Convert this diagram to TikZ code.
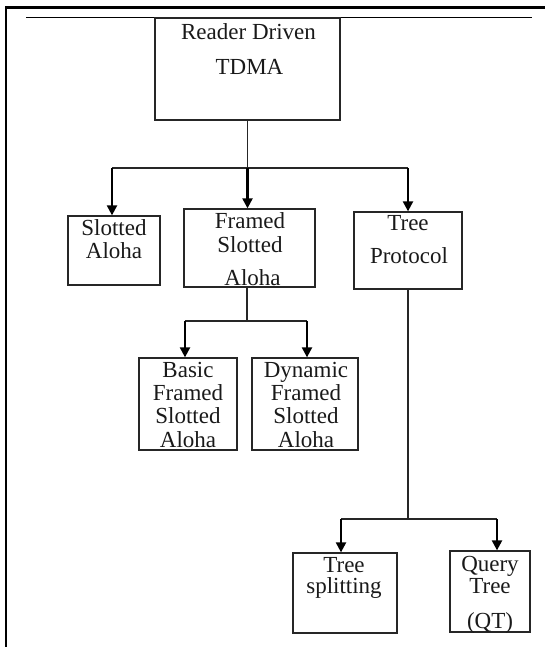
\documentclass[tikz,border=0pt]{standalone}
\usepackage{fontspec}
\setmainfont{Liberation Serif}
\usetikzlibrary{arrows.meta}
\begin{document}
\begin{tikzpicture}[x=1pt,y=-1pt,
  box/.style={draw=black!85,line width=1.3pt,rectangle,inner sep=0pt},
  lbl/.style={anchor=base,inner sep=0pt,font=\fontsize{23}{23}\selectfont,text=black!90},
  bus/.style={draw=black!85,line width=1.4pt},
  arr/.style={draw=black,line width=2.2pt,-{Triangle[length=10pt,width=10pt]}}]
\useasboundingbox (0,0) rectangle (545,647);

% page frame and rule
\draw[line width=2.6pt,black] (6,647) -- (6,7.5) -- (545,7.5);
\draw[line width=1pt,black] (26,18) -- (532,18);

% boxes
\node[box,minimum width=185pt,minimum height=102pt] (root) at (247.5,69) {};
\node[box,minimum width=92pt,minimum height=69pt] (slot) at (114,250.5) {};
\node[box,minimum width=131pt,minimum height=78pt] (fsa) at (249.5,248) {};
\node[box,minimum width=108pt,minimum height=77pt] (tree) at (408,250.5) {};
\node[box,minimum width=98pt,minimum height=92pt] (bfsa) at (188,404) {};
\node[box,minimum width=106pt,minimum height=92pt] (dfsa) at (305,404) {};
\node[box,minimum width=104pt,minimum height=80pt] (split) at (345,593) {};
\node[box,minimum width=80pt,minimum height=81pt] (qt) at (490,591.5) {};

% labels
\node[lbl] (root1) at (248.5,40) {Reader Driven};
\node[lbl] (root2) at (249.5,75) {TDMA};
\node[lbl] (slot1) at (114,235) {Slotted};
\node[lbl] (slot2) at (114,258) {Aloha};
\node[lbl] (fsa1) at (250,228) {Framed};
\node[lbl] (fsa2) at (250,252) {Slotted};
\node[lbl] (fsa3) at (252.5,285) {Aloha};
\node[lbl] (tree1) at (408,230) {Tree};
\node[lbl] (tree2) at (409,263) {Protocol};
\node[lbl] (bfsa1) at (188,377) {Basic};
\node[lbl] (bfsa2) at (188,400) {Framed};
\node[lbl] (bfsa3) at (188,423) {Slotted};
\node[lbl] (bfsa4) at (188,447) {Aloha};
\node[lbl] (dfsa1) at (306,377) {Dynamic};
\node[lbl] (dfsa2) at (306,400) {Framed};
\node[lbl] (dfsa3) at (306,423) {Slotted};
\node[lbl] (dfsa4) at (306,447) {Aloha};
\node[lbl] (split1) at (344,572) {Tree};
\node[lbl] (split2) at (344,593) {splitting};
\node[lbl] (qt1) at (490,571) {Query};
\node[lbl] (qt2) at (490,593) {Tree};
\node[lbl] (qt3) at (490,628) {(QT)};

% first level: root to its three children
\coordinate (busA) at (247.5,168);
\coordinate (a1) at (112,168);
\coordinate (a3) at (408,168);
\draw[bus] (root.south) -- (busA);
\draw[bus] (a1) -- (a3);
\draw[arr] (a1) -- (a1 |- slot.north);
\draw[arr] (busA) -- (busA |- fsa.north);
\draw[arr] (a3) -- (a3 |- tree.north);

% framed slotted aloha to its variants
\coordinate (busB) at (247,321);
\coordinate (b1) at (185,321);
\coordinate (b2) at (307,321);
\draw[bus] (busB |- fsa.south) -- (busB);
\draw[bus] (b1) -- (b2);
\draw[arr] (b1) -- (b1 |- bfsa.north);
\draw[arr] (b2) -- (b2 |- dfsa.north);

% tree protocol to its variants
\coordinate (busC) at (408,519);
\coordinate (c1) at (341,519);
\coordinate (c2) at (497,519);
\draw[bus] (tree.south) -- (busC);
\draw[bus] (c1) -- (c2);
\draw[arr] (c1) -- (c1 |- split.north);
\draw[arr] (c2) -- (c2 |- qt.north);
\end{tikzpicture}
\end{document}
